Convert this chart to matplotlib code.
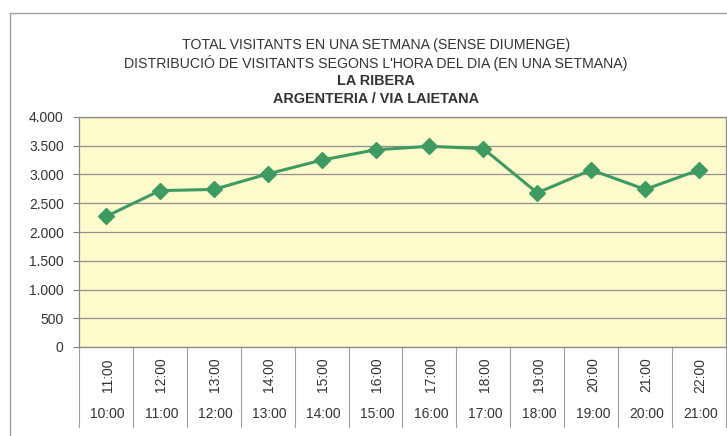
import matplotlib.pyplot as plt
import matplotlib.patches as mpatches
from matplotlib.ticker import FuncFormatter, MultipleLocator

plt.rcParams['font.family'] = ['Liberation Sans', 'DejaVu Sans']

hora_fi = ['11:00', '12:00', '13:00', '14:00', '15:00', '16:00',
           '17:00', '18:00', '19:00', '20:00', '21:00', '22:00']
hora_inici = ['10:00', '11:00', '12:00', '13:00', '14:00', '15:00',
              '16:00', '17:00', '18:00', '19:00', '20:00', '21:00']
visitants = [2270, 2720, 2740, 3010, 3250, 3430, 3490, 3450, 2680, 3080, 2740, 3080]

titols = ['TOTAL VISITANTS EN UNA SETMANA (SENSE DIUMENGE)',
          "DISTRIBUCIÓ DE VISITANTS SEGONS L'HORA DEL DIA (EN UNA SETMANA)",
          'LA RIBERA',
          'ARGENTERIA / VIA LAIETANA']

fig = plt.figure(figsize=(7.27, 4.36), dpi=100)
fig.patch.set_facecolor('white')

# marc exterior del grafic
fig.patches.append(mpatches.Rectangle((10 / 727, -0.05), 1.1, 1 - 13 / 436 + 0.05,
                                      transform=fig.transFigure, fill=False,
                                      edgecolor='#a0a0a0', linewidth=1.0))

ax = fig.add_axes([79 / 727, 1 - 347 / 436, 647 / 727, 230 / 436])
ax.set_facecolor('#fdfbcc')

x = list(range(len(visitants)))
ax.plot(x, visitants, color='#3d9b62', linewidth=2.2, marker='D', markersize=8,
        markerfacecolor='#3d9b62', markeredgecolor='#3d9b62')

ax.set_xlim(-0.5, len(visitants) - 0.5)
ax.set_ylim(0, 4000)
ax.yaxis.set_major_locator(MultipleLocator(500))
ax.yaxis.set_major_formatter(FuncFormatter(lambda v, p: f'{int(v):,}'.replace(',', '.')))
ax.grid(axis='y', color='#8f8f8f', linewidth=0.9)
ax.set_axisbelow(True)
ax.tick_params(axis='y', direction='out', length=4, color='#808080',
               labelsize=10, labelcolor='#333333', pad=7)

for s in ax.spines.values():
    s.set_color('#8a8a8a')
    s.set_linewidth(0.9)

ax.set_xticks(x)
ax.set_xticklabels([])
ax.tick_params(axis='x', length=0)

tr = ax.get_xaxis_transform()
for i in range(len(visitants) + 1):
    ax.plot([i - 0.5, i - 0.5], [0, -0.348], transform=tr, color='#a0a0a0',
            linewidth=0.8, clip_on=False)
for i in x:
    ax.text(i + 0.03, -0.122, hora_fi[i], transform=tr, rotation=90, ha='center',
            va='center', fontsize=10, color='#333333')
    ax.text(i + 0.03, -0.291, hora_inici[i], transform=tr, ha='center', va='center',
            fontsize=10, color='#333333')

ys = [45, 63, 81, 99]
for t, yy, w, fs in zip(titols, ys, ['normal', 'normal', 'bold', 'bold'],
                        [10.2, 10.2, 10.4, 10.4]):
    fig.text(376 / 727, 1 - yy / 436, t, ha='center', va='center', fontsize=fs,
             fontweight=w, color='#333333')

fig.savefig('out.png', dpi=100)
